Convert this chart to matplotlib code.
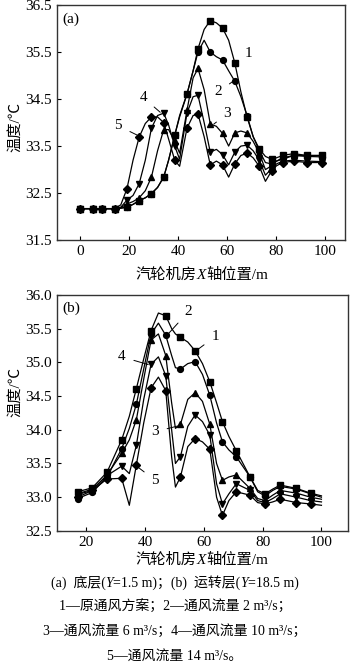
import matplotlib
matplotlib.use('Agg')
import matplotlib.pyplot as plt
import numpy as np

plt.rcParams['font.family'] = ['Liberation Serif', 'Noto Sans CJK SC']

# panel (a): bottom floor, Y=1.5 m
x_a = [0, 5, 9, 14, 16.5, 19, 21.5, 24, 26.5, 29, 31.5, 34, 36, 38.5, 40.5, 43.5, 46, 48,
       50.5, 53, 55.5, 58, 60.5, 63, 65.5, 68, 70.5, 73, 75.5, 78, 80, 82.5, 87, 92.5, 98.5]
mark_a = [0, 1, 2, 3, 5, 7, 9, 11, 13, 15, 17, 19, 21, 23, 25, 27, 29, 31, 32, 33, 34]
a1 = [32.17, 32.17, 32.17, 32.17, 32.18, 32.2, 32.26, 32.34, 32.4, 32.49, 32.62, 32.84, 33.2, 33.73,
      34.15, 34.61, 35.1, 35.57, 35.98, 36.17, 36.12, 36.01, 35.75, 35.27, 34.65, 34.12, 33.7, 33.44,
      33.28, 33.22, 33.25, 33.3, 33.34, 33.3, 33.3]
a2 = [32.17, 32.17, 32.17, 32.17, 32.18, 32.2, 32.26, 32.34, 32.4, 32.49, 32.62, 32.84, 33.2, 33.73,
      34.12, 34.6, 35.1, 35.5, 35.75, 35.5, 35.4, 35.33, 35.1, 34.88, 34.55, 34.15, 33.7, 33.4,
      33.15, 33.12, 33.18, 33.25, 33.3, 33.28, 33.27]
a3 = [32.17, 32.17, 32.17, 32.17, 32.19, 32.27, 32.32, 32.4, 32.55, 32.84, 33.4, 33.85, 33.85, 33.6,
      33.35, 34.26, 34.95, 35.15, 34.7, 33.97, 33.92, 33.77, 33.5, 33.78, 33.82, 33.78, 33.6, 33.35,
      33.0, 33.08, 33.18, 33.22, 33.3, 33.3, 33.3]
a4 = [32.17, 32.17, 32.17, 32.17, 32.2, 32.35, 32.45, 32.7, 33.2, 33.88, 34.15, 34.2, 33.95, 33.5,
      33.22, 34.2, 34.55, 34.58, 34.0, 33.37, 33.43, 33.32, 33.1, 33.37, 33.5, 33.52, 33.4, 33.2,
      32.88, 33.02, 33.12, 33.18, 33.2, 33.18, 33.17]
a5 = [32.17, 32.17, 32.17, 32.17, 32.25, 32.59, 33.2, 33.69, 33.98, 34.12, 34.12, 34.0, 33.65, 33.2,
      33.07, 33.88, 34.15, 34.18, 33.7, 33.1, 33.18, 33.1, 32.84, 33.12, 33.3, 33.35, 33.25, 33.07,
      32.75, 32.97, 33.08, 33.15, 33.18, 33.15, 33.15]

# panel (b): operating floor, Y=18.5 m
x_b = [17, 22, 27, 32, 34.6, 37, 39.5, 42, 44.5, 47, 49, 50.3, 52, 54.5, 57, 59.5, 62, 64.3,
       66.3, 68.5, 71, 75.7, 78.3, 80.8, 83.4, 86, 91.5, 96.3, 100]
mark_b = [0, 1, 2, 3, 5, 7, 9, 12, 14, 16, 18, 20, 21, 23, 25, 26, 27]
b1 = [33.08, 33.14, 33.37, 33.85, 34.2, 34.61, 35.05, 35.47, 35.73, 35.69, 35.5, 35.42, 35.37, 35.3,
      35.17, 34.98, 34.71, 34.4, 34.12, 33.9, 33.69, 33.3, 33.1, 33.05, 33.12, 33.18, 33.13, 33.06, 33.02]
b2 = [32.98, 33.07, 33.3, 33.72, 34.02, 34.38, 34.9, 35.42, 35.58, 35.4, 35.1, 34.92, 34.9, 34.98,
      35.01, 34.82, 34.51, 34.1, 33.82, 33.7, 33.6, 33.3, 33.08, 33.02, 33.1, 33.16, 33.12, 33.05, 33.0]
b3 = [33.04, 33.1, 33.33, 33.65, 33.85, 34.15, 34.75, 35.33, 35.42, 35.1, 34.4, 34.02, 34.08, 34.45,
      34.55, 34.42, 34.08, 33.5, 33.25, 33.3, 33.33, 33.13, 32.98, 32.95, 33.03, 33.1, 33.06, 33.0, 32.97]
b4 = [33.05, 33.12, 33.32, 33.46, 33.35, 33.77, 34.45, 34.97, 35.08, 34.8, 34.0, 33.5, 33.6, 34.05,
      34.22, 34.12, 33.92, 33.2, 32.9, 33.05, 33.2, 33.1, 32.95, 32.92, 32.98, 33.05, 33.0, 32.95, 32.93]
b5 = [33.0, 33.1, 33.27, 33.28, 32.88, 33.48, 34.1, 34.62, 34.78, 34.58, 33.6, 33.15, 33.3, 33.75,
      33.87, 33.82, 33.71, 33.0, 32.73, 32.95, 33.08, 33.03, 32.92, 32.9, 32.93, 32.97, 32.92, 32.9, 32.88]

markers = ['s', 'o', '^', 'v', 'D']
labels = ['1', '2', '3', '4', '5']

# label text position, line end (data coords)
ann_a = [((68.6, 35.46), (63.7, 35.27)), ((56.3, 34.65), (62.6, 34.89)), ((60.0, 34.19), (54.0, 33.95)),
         ((25.7, 34.53), (33.0, 34.2)), ((15.5, 33.93), (23.7, 33.72))]
ann_b = [((63.8, 35.38), (57.6, 35.18)), ((54.7, 35.75), (47.4, 35.4)), ((43.4, 33.97), (51.5, 34.06)),
         ((32.1, 35.08), (41.5, 34.96)), ((43.4, 33.25), (36.8, 33.47))]

fig = plt.figure(figsize=(3.5, 6.67), dpi=100)
ax1 = fig.add_axes([0.163, 0.640, 0.823, 0.3525])
ax2 = fig.add_axes([0.163, 0.204, 0.831, 0.354])
renderer = fig.canvas.get_renderer()


def draw(ax, x, ys, mk, ann):
    for y, m in zip(ys, markers):
        ax.plot(x, y, color='black', lw=0.9, marker=m, markevery=mk,
                ms=4.2 if m != 'D' else 3.6, mfc='black', mec='black')
    for lab, (txt, end) in zip(labels, ann):
        ax.annotate(lab, xy=end, xytext=txt, fontsize=11, ha='center', va='center',
                    arrowprops=dict(arrowstyle='-', lw=0.7, color='black', shrinkA=4, shrinkB=1))
    ax.tick_params(direction='in', labelsize=11, length=3, width=0.8)
    for s in ax.spines.values():
        s.set_linewidth(1.0)
        s.set_color('#333333')


def rich(xc, y, parts, size):
    # pieces of text, some italic, laid side by side and centred at xc
    objs = []
    for s, st in parts:
        objs.append(fig.text(0, y, s, fontsize=size, style=st, va='baseline', ha='left'))
    widths = [t.get_window_extent(renderer).width / fig.bbox.width for t in objs]
    x0 = xc - sum(widths) / 2
    for t, w in zip(objs, widths):
        t.set_x(x0)
        x0 += w


draw(ax1, x_a, [a1, a2, a3, a4, a5], mark_a, ann_a)
ax1.set_xlim(-9.5, 108)
ax1.set_ylim(31.5, 36.5)
ax1.set_xticks([0, 20, 40, 60, 80, 100])
ax1.set_yticks([31.5, 32.5, 33.5, 34.5, 35.5, 36.5])
ax1.set_yticklabels(['31.5', '32.5', '33.5', '34.5', '35.5', '36.5'])
ax1.text(0.02, 0.97, '(a)', transform=ax1.transAxes, fontsize=11, va='top', ha='left')

draw(ax2, x_b, [b1, b2, b3, b4, b5], mark_b, ann_b)
ax2.set_xlim(10, 109)
ax2.set_ylim(32.5, 36.0)
ax2.set_xticks([20, 40, 60, 80, 100])
ax2.set_yticks(np.arange(32.5, 36.01, 0.5))
ax2.set_yticklabels(['32.5', '33.0', '33.5', '34.0', '34.5', '35.0', '35.5', '36.0'])
ax2.text(0.02, 0.97, '(b)', transform=ax2.transAxes, fontsize=11, va='top', ha='left')

fig.text(0.043, 0.81, '温度/℃', rotation=90, fontsize=11, ha='center', va='center')
fig.text(0.043, 0.412, '温度/℃', rotation=90, fontsize=11, ha='center', va='center')

xlab = [('汽轮机房', 'normal'), ('X', 'italic'), ('轴位置/m', 'normal')]
rich(0.577, 0.582, xlab, 11)
rich(0.577, 0.155, xlab, 11)

rich(0.5, 0.12, [('(a)  底层(', 'normal'), ('Y', 'italic'), ('=1.5 m)；(b)  运转层(', 'normal'),
                 ('Y', 'italic'), ('=18.5 m)', 'normal')], 10)
rich(0.5, 0.086, [('1—原通风方案；2—通风流量 2 m³/s；', 'normal')], 10)
rich(0.5, 0.0485, [('3—通风流量 6 m³/s；4—通风流量 10 m³/s；', 'normal')], 10)
rich(0.5, 0.011, [('5—通风流量 14 m³/s。', 'normal')], 10)

fig.savefig('out.png', dpi=100)
